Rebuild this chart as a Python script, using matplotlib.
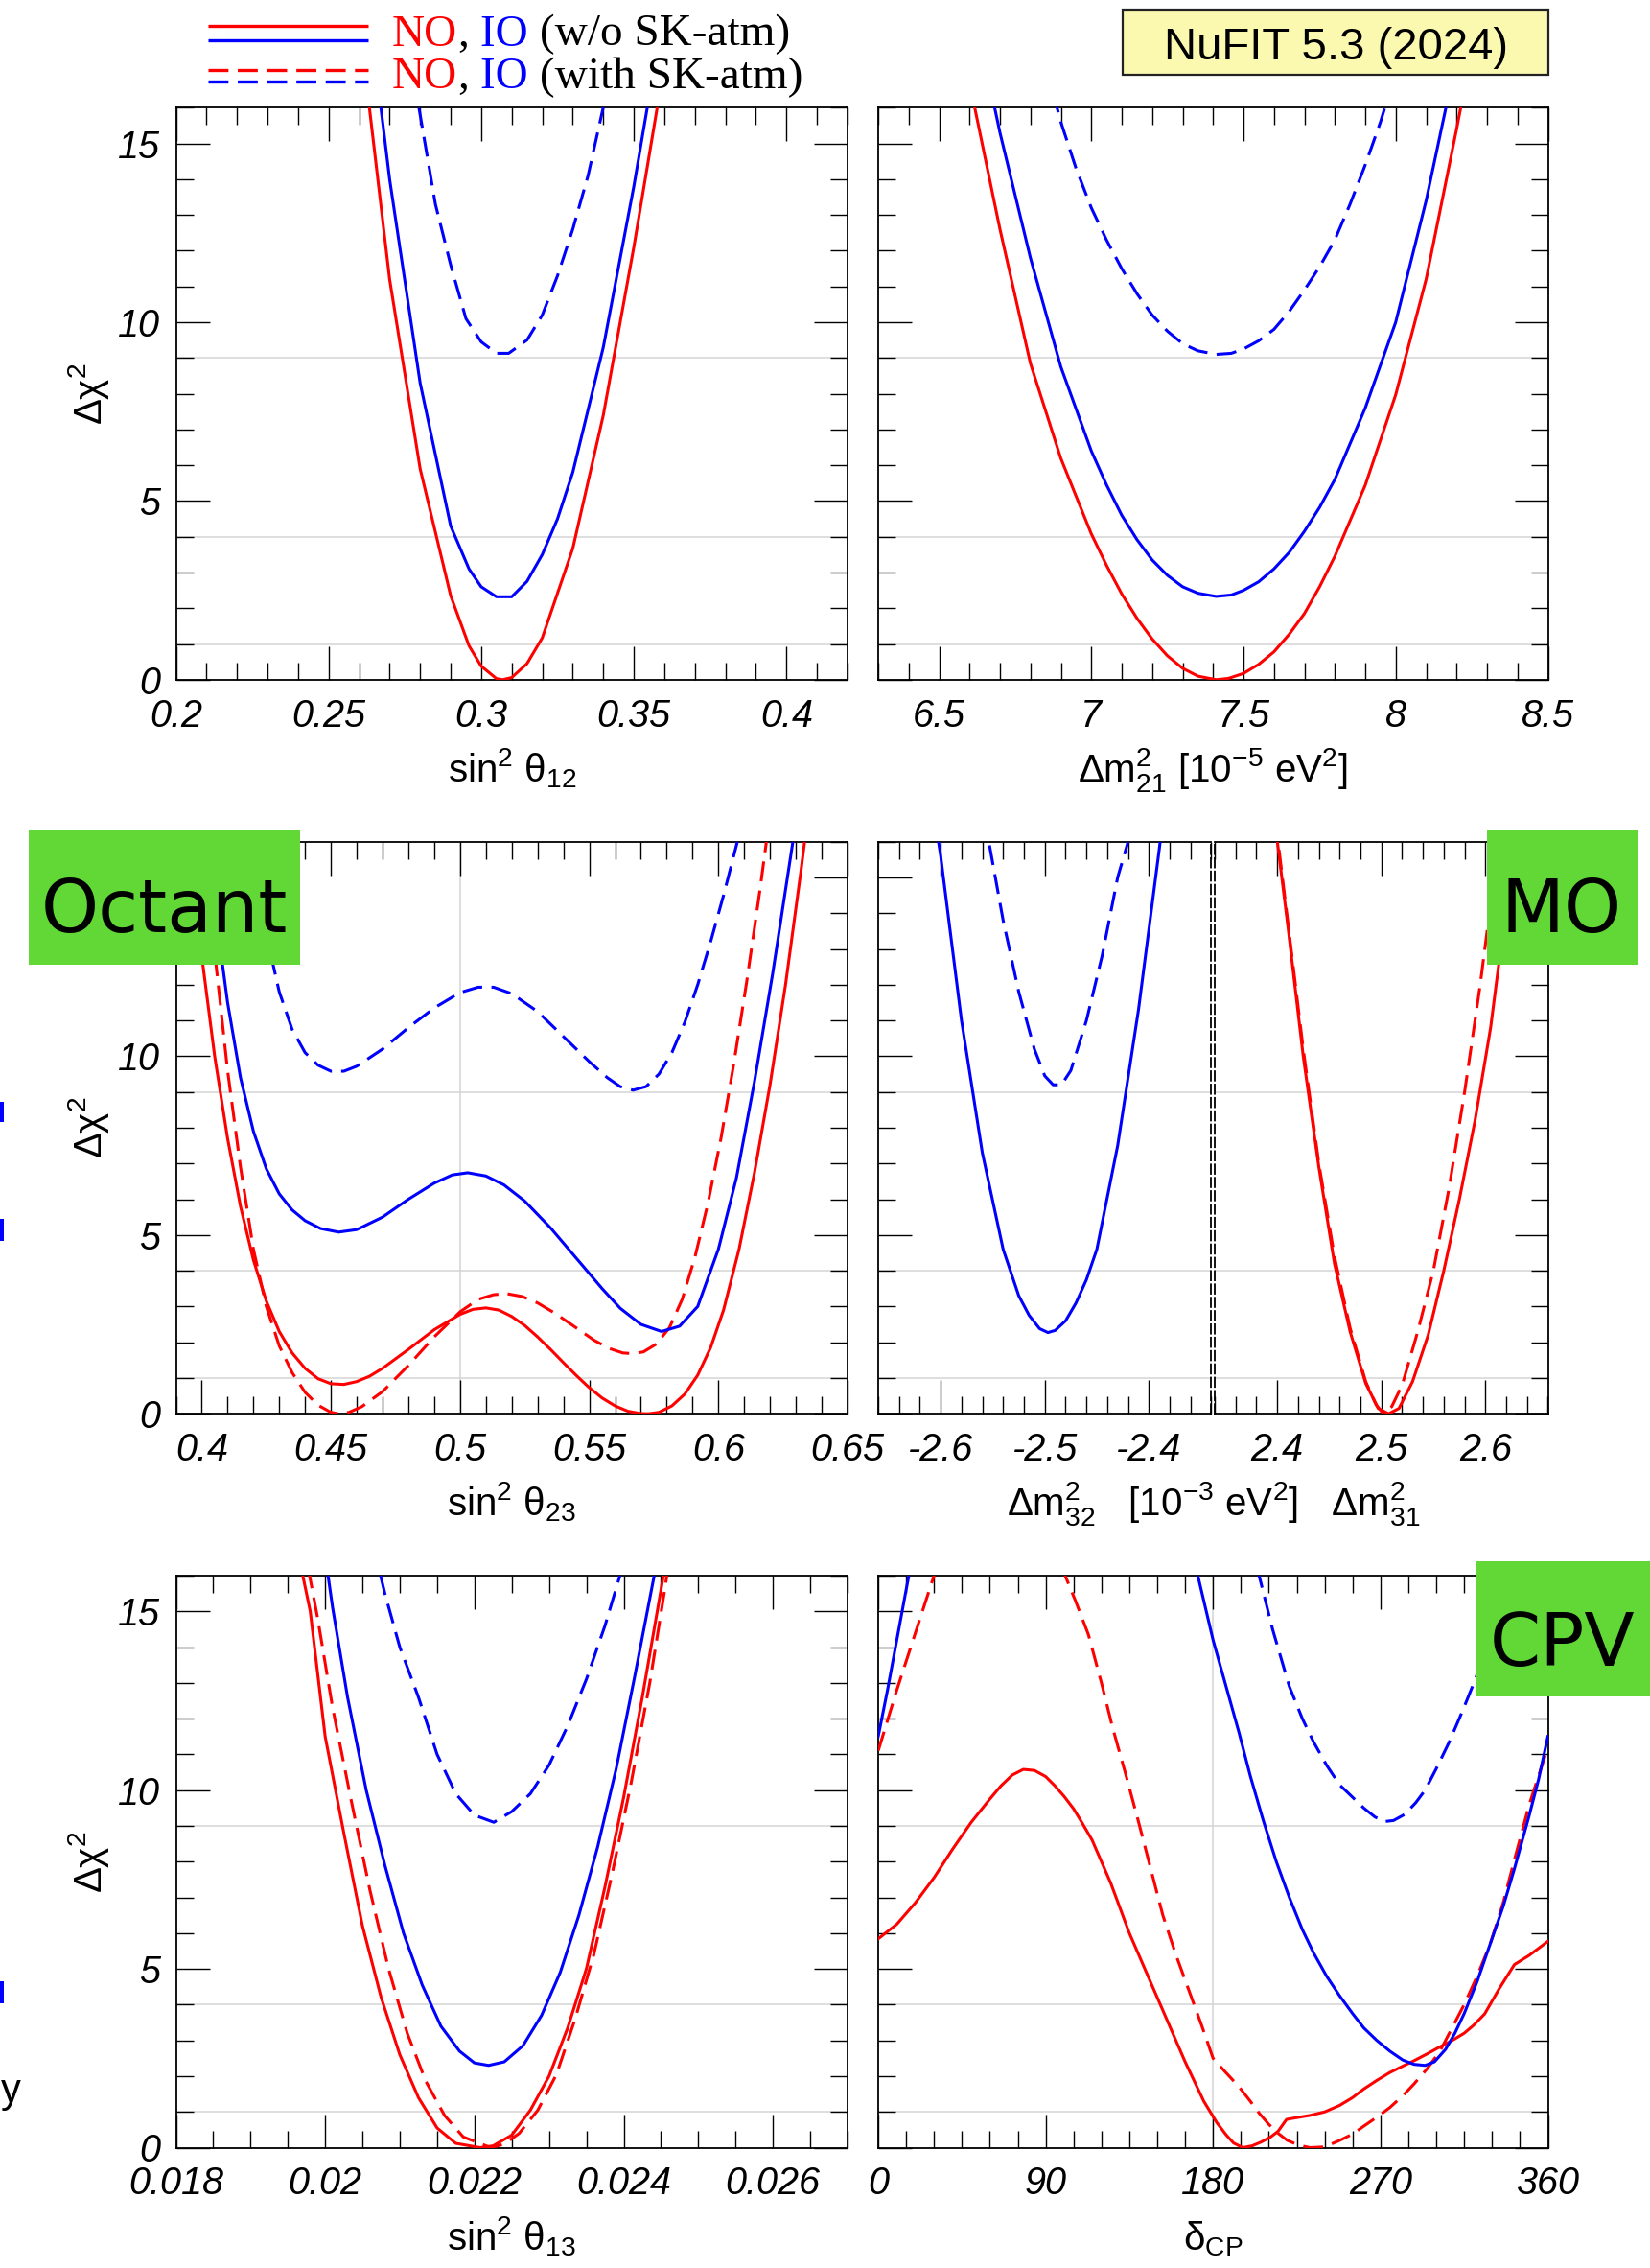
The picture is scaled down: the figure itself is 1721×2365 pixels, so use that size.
import matplotlib
matplotlib.use("Agg")
import matplotlib.pyplot as plt
from matplotlib.patches import Rectangle
from matplotlib.ticker import MultipleLocator, FuncFormatter

plt.rcParams.update({
    "font.family": ["Liberation Sans", "DejaVu Sans"],
    "mathtext.fontset": "custom",
    "mathtext.rm": "Liberation Sans",
    "mathtext.it": "Liberation Sans:italic",
    "mathtext.bf": "Liberation Sans:bold",
    "mathtext.sf": "Liberation Sans",
    "lines.scale_dashes": False,
})

# ---------------- Delta chi^2 profiles ----------------
# sin^2 theta_12
s12_no_x = [0.262, 0.270, 0.280, 0.290, 0.296, 0.300, 0.305, 0.307, 0.310, 0.315, 0.320, 0.330, 0.340, 0.350, 0.360]
s12_no_y = [17.0, 11.2, 5.9, 2.35, 0.95, 0.38, 0.03, 0.0, 0.06, 0.45, 1.17, 3.67, 7.4, 12.1, 17.2]
s12_io_x = [0.265, 0.270, 0.280, 0.290, 0.296, 0.300, 0.305, 0.310, 0.315, 0.320, 0.325, 0.330, 0.340, 0.350, 0.356]
s12_io_y = [17.5, 14.0, 8.3, 4.3, 3.1, 2.6, 2.32, 2.32, 2.75, 3.5, 4.5, 5.8, 9.3, 13.8, 16.8]
s12_iosk_x = [0.278, 0.285, 0.290, 0.295, 0.300, 0.305, 0.309, 0.315, 0.320, 0.325, 0.330, 0.335, 0.341]
s12_iosk_y = [16.8, 13.3, 11.6, 10.1, 9.45, 9.13, 9.13, 9.5, 10.2, 11.3, 12.6, 14.1, 16.4]

# Delta m^2_21
m21_no_x = [6.60, 6.70, 6.80, 6.90, 7.00, 7.05, 7.10, 7.15, 7.20, 7.25, 7.30, 7.35, 7.41, 7.45, 7.50, 7.55,
            7.60, 7.65, 7.70, 7.75, 7.80, 7.90, 8.00, 8.10, 8.20, 8.25]
m21_no_y = [16.7, 12.6, 8.85, 6.19, 4.08, 3.2, 2.4, 1.72, 1.14, 0.67, 0.32, 0.1, 0.0, 0.035, 0.175, 0.43,
            0.78, 1.27, 1.85, 2.6, 3.45, 5.44, 7.97, 11.2, 15.4, 17.6]
m21_io_x = [6.65, 6.70, 6.80, 6.90, 7.00, 7.05, 7.10, 7.15, 7.20, 7.25, 7.30, 7.35, 7.41, 7.46, 7.50, 7.55,
            7.60, 7.65, 7.70, 7.75, 7.80, 7.90, 8.00, 8.10, 8.20]
m21_io_y = [17.3, 15.3, 11.8, 8.75, 6.4, 5.45, 4.6, 3.92, 3.35, 2.92, 2.6, 2.42, 2.33, 2.37, 2.5, 2.74,
            3.1, 3.56, 4.15, 4.82, 5.6, 7.6, 10.0, 13.4, 17.4]
m21_iosk_x = [6.85, 6.90, 6.95, 7.00, 7.05, 7.10, 7.15, 7.20, 7.25, 7.30, 7.35, 7.41, 7.46, 7.50, 7.55,
              7.60, 7.65, 7.70, 7.75, 7.80, 7.85, 7.90, 7.95, 8.00]
m21_iosk_y = [17.2, 15.6, 14.3, 13.2, 12.3, 11.5, 10.8, 10.2, 9.75, 9.4, 9.2, 9.1, 9.13, 9.25, 9.48,
              9.8, 10.3, 10.9, 11.55, 12.3, 13.3, 14.4, 15.6, 17.0]

# sin^2 theta_23
s23_no_x = [0.392, 0.396, 0.400, 0.405, 0.410, 0.415, 0.420, 0.425, 0.430, 0.435, 0.440, 0.445, 0.450, 0.455,
            0.460, 0.465, 0.470, 0.480, 0.490, 0.500, 0.505, 0.510, 0.515, 0.520, 0.525, 0.530, 0.535, 0.540,
            0.545, 0.550, 0.555, 0.560, 0.565, 0.570, 0.573, 0.577, 0.582, 0.587, 0.592, 0.597, 0.602, 0.608,
            0.614, 0.620, 0.626, 0.632, 0.636]
s23_no_y = [17.0, 14.9, 12.8, 10.0, 7.7, 5.8, 4.3, 3.15, 2.3, 1.7, 1.27, 0.98, 0.84, 0.82,
            0.9, 1.05, 1.27, 1.8, 2.35, 2.78, 2.92, 2.96, 2.9, 2.72, 2.47, 2.15, 1.8, 1.43,
            1.07, 0.73, 0.44, 0.22, 0.07, 0.005, 0.0, 0.04, 0.22, 0.55, 1.08, 1.85, 2.9, 4.6,
            6.75, 9.2, 12.0, 15.2, 17.5]
s23_nosk_x = [0.397, 0.400, 0.405, 0.410, 0.415, 0.420, 0.425, 0.430, 0.435, 0.440, 0.445, 0.450, 0.453, 0.457,
              0.462, 0.470, 0.480, 0.490, 0.500, 0.507, 0.513, 0.518, 0.524, 0.530, 0.537, 0.545, 0.552,
              0.558, 0.563, 0.567, 0.571, 0.576, 0.581, 0.586, 0.591, 0.596, 0.601, 0.606, 0.611, 0.616, 0.621]
s23_nosk_y = [18.5, 16.3, 12.9, 9.6, 6.9, 4.6, 3.0, 1.9, 1.15, 0.6, 0.24, 0.04, 0.0, 0.04,
              0.2, 0.62, 1.35, 2.15, 2.85, 3.2, 3.33, 3.36, 3.28, 3.1, 2.8, 2.4, 2.05,
              1.82, 1.7, 1.68, 1.73, 1.95, 2.4, 3.2, 4.4, 5.9, 7.7, 9.8, 12.1, 14.6, 17.3]
s23_io_x = [0.400, 0.405, 0.410, 0.415, 0.420, 0.425, 0.430, 0.435, 0.440, 0.446, 0.453, 0.460, 0.470, 0.480,
            0.490, 0.497, 0.503, 0.510, 0.517, 0.525, 0.535, 0.545, 0.555, 0.562, 0.570, 0.578, 0.585, 0.592,
            0.600, 0.607, 0.614, 0.621, 0.628, 0.633]
s23_io_y = [17.5, 14.2, 11.5, 9.4, 7.9, 6.85, 6.15, 5.7, 5.4, 5.18, 5.08, 5.15, 5.5, 6.0,
            6.45, 6.68, 6.74, 6.65, 6.4, 5.95, 5.2, 4.35, 3.5, 2.95, 2.5, 2.3, 2.45, 3.0,
            4.6, 6.6, 9.3, 12.3, 15.6, 18.0]
s23_iosk_x = [0.415, 0.420, 0.425, 0.430, 0.435, 0.440, 0.445, 0.450, 0.455, 0.460, 0.470, 0.480, 0.490, 0.500,
              0.507, 0.513, 0.520, 0.530, 0.540, 0.550, 0.557, 0.562, 0.567, 0.572, 0.577, 0.582, 0.587,
              0.592, 0.597, 0.602, 0.607, 0.612]
s23_iosk_y = [18.5, 15.8, 13.4, 11.8, 10.75, 10.1, 9.75, 9.58, 9.58, 9.72, 10.2, 10.8, 11.35, 11.78,
              11.93, 11.93, 11.75, 11.25, 10.55, 9.85, 9.4, 9.15, 9.05, 9.15, 9.5, 10.1, 10.95,
              12.0, 13.2, 14.5, 15.9, 17.4]

# Delta m^2_32 (IO) and Delta m^2_31 (NO)
m32_io_x = [-2.610, -2.600, -2.580, -2.560, -2.540, -2.525, -2.515, -2.505, -2.497, -2.490, -2.480, -2.470,
            -2.460, -2.450, -2.430, -2.410, -2.390, -2.380]
m32_io_y = [17.5, 15.6, 11.0, 7.3, 4.6, 3.3, 2.75, 2.38, 2.27, 2.33, 2.6, 3.1,
            3.75, 4.6, 7.5, 11.3, 15.8, 18.3]
m32_iosk_x = [-2.565, -2.555, -2.540, -2.525, -2.510, -2.500, -2.492, -2.484, -2.475, -2.460, -2.445, -2.430, -2.418, -2.410]
m32_iosk_y = [17.5, 16.2, 13.8, 11.8, 10.2, 9.45, 9.2, 9.2, 9.6, 11.0, 12.8, 15.0, 16.2, 17.6]
m31_no_x = [2.395, 2.410, 2.425, 2.440, 2.455, 2.470, 2.485, 2.497, 2.507, 2.517, 2.530, 2.545, 2.560, 2.575, 2.590, 2.605, 2.620, 2.630]
m31_no_y = [17.2, 13.7, 10.0, 6.9, 4.2, 2.3, 0.85, 0.15, 0.0, 0.15, 0.9, 2.2, 4.0, 6.0, 8.2, 10.8, 14.2, 16.7]
m31_nosk_x = [2.395, 2.410, 2.425, 2.440, 2.455, 2.470, 2.485, 2.495, 2.502, 2.510, 2.520, 2.535, 2.550, 2.565, 2.580, 2.595, 2.610, 2.620]
m31_nosk_y = [17.4, 13.8, 10.2, 7.0, 4.4, 2.4, 0.9, 0.25, 0.0, 0.2, 0.8, 2.3, 4.0, 6.3, 9.0, 12.0, 15.4, 17.8]

# sin^2 theta_13
s13_no_x = [0.01960, 0.01980, 0.02000, 0.02025, 0.02050, 0.02075, 0.02100, 0.02125, 0.02150, 0.02175, 0.02208,
            0.02225, 0.02250, 0.02275, 0.02300, 0.02325, 0.02350, 0.02375, 0.02400, 0.02425, 0.02450, 0.02465]
s13_no_y = [17.0, 15.0, 11.5, 8.8, 6.2, 4.2, 2.6, 1.4, 0.55, 0.12, 0.0,
            0.05, 0.35, 1.05, 2.0, 3.35, 5.0, 7.3, 9.8, 12.6, 15.6, 17.5]
s13_nosk_x = [0.01970, 0.01990, 0.02010, 0.02035, 0.02060, 0.02085, 0.02110, 0.02135, 0.02160, 0.02185, 0.02222,
              0.02240, 0.02260, 0.02285, 0.02310, 0.02335, 0.02360, 0.02385, 0.02410, 0.02435, 0.02455, 0.02470]
s13_nosk_y = [17.0, 14.8, 12.3, 9.7, 7.2, 5.0, 3.2, 1.85, 0.9, 0.3, 0.0,
              0.1, 0.4, 1.05, 2.05, 3.6, 5.4, 7.7, 10.2, 13.0, 15.6, 17.7]
s13_io_x = [0.01995, 0.02010, 0.02030, 0.02055, 0.02080, 0.02105, 0.02130, 0.02155, 0.02180, 0.02200, 0.02219,
            0.02240, 0.02265, 0.02290, 0.02315, 0.02340, 0.02365, 0.02390, 0.02415, 0.02440, 0.02455]
s13_io_y = [17.3, 15.1, 12.6, 10.0, 7.9, 6.0, 4.55, 3.4, 2.7, 2.37, 2.3,
            2.4, 2.85, 3.7, 4.9, 6.5, 8.4, 10.6, 13.2, 15.9, 17.5]
s13_iosk_x = [0.02065, 0.02080, 0.02100, 0.02125, 0.02150, 0.02175, 0.02200, 0.02226, 0.02250, 0.02275,
              0.02300, 0.02325, 0.02350, 0.02375, 0.02395, 0.02410]
s13_iosk_y = [16.8, 15.5, 14.0, 12.6, 11.0, 9.9, 9.3, 9.1, 9.4, 9.9,
              10.7, 11.8, 13.1, 14.6, 16.0, 17.2]

# delta_CP [deg]
dcp_no_x = [0, 10, 20, 30, 40, 50, 60, 66, 72, 78, 84, 90, 95, 100, 105, 110, 115, 125, 135, 145, 155, 165, 175,
            182, 187, 191, 196, 201, 206, 211, 215, 219.5, 225, 232, 240, 248, 255, 261, 268, 275, 282, 288, 295,
            302, 308, 315, 320, 326, 334, 342, 350, 360]
dcp_no_y = [5.84, 6.25, 6.85, 7.55, 8.35, 9.1, 9.75, 10.12, 10.42, 10.58, 10.55, 10.38, 10.12, 9.82, 9.48, 9.05, 8.6,
            7.4, 6.0, 4.8, 3.6, 2.4, 1.3, 0.7, 0.36, 0.13, 0.0, 0.05, 0.16, 0.3, 0.46, 0.79, 0.84, 0.9, 1.0, 1.18,
            1.4, 1.64, 1.88, 2.1, 2.28, 2.43, 2.62, 2.82, 2.98, 3.2, 3.42, 3.74, 4.46, 5.12, 5.38, 5.77]
dcp_nosk_x = [0, 10, 20, 30, 35, 95, 100.5, 106, 113, 120, 126, 133, 140, 147, 153, 160, 167, 174, 180, 186,
              194, 200, 205, 210, 215, 220, 226, 232, 240, 248, 255, 261, 268, 275, 282, 288, 295, 302, 308,
              315, 322, 329, 336, 342, 350, 355, 360]
dcp_nosk_y = [11.1, 12.8, 14.4, 16.0, 16.9, 16.9, 16.0, 15.3, 14.35, 13.0, 11.75, 10.45, 9.1, 7.7, 6.5, 5.4, 4.4, 3.4, 2.5, 2.15,
              1.7, 1.3, 0.95, 0.65, 0.4, 0.2, 0.07, 0.0, 0.02, 0.2, 0.38, 0.6, 0.85, 1.12, 1.45, 1.78, 2.2, 2.7, 3.3,
              4.0, 4.8, 5.7, 6.85, 8.05, 9.6, 10.4, 11.2]
dcp_io_x = [0, 5, 10, 15, 19, 170, 175, 180, 187, 194, 200, 207, 214, 221, 228, 234, 241, 248, 255, 261, 268,
            275, 282, 288, 294, 299, 305, 310, 315, 322, 329, 336, 342, 350, 355, 360]
dcp_io_y = [11.5, 12.8, 14.2, 15.6, 16.7, 16.4, 15.3, 14.2, 12.9, 11.6, 10.4, 9.15, 8.0, 7.0, 6.1, 5.45, 4.8, 4.25, 3.75, 3.35, 3.0,
            2.7, 2.45, 2.33, 2.3, 2.4, 2.75, 3.2, 3.75, 4.65, 5.7, 6.75, 7.8, 9.3, 10.3, 11.5]
dcp_iosk_x = [200, 205, 212, 221, 228, 234, 241, 248, 255, 261, 267, 272, 277, 283, 289, 294, 300, 307, 314,
              321, 328, 335, 340, 345]
dcp_iosk_y = [17.0, 15.95, 14.5, 12.9, 12.0, 11.35, 10.7, 10.15, 9.8, 9.5, 9.25, 9.12, 9.15, 9.32, 9.65, 10.0, 10.6, 11.35, 12.2,
              13.1, 14.1, 15.3, 16.2, 17.2]

# ---------------- layout ----------------
W, H = 1721, 2365
fig = plt.figure(figsize=(W / 100, H / 100), dpi=100)

RED, BLUE = "#ff0000", "#0000ff"
GRID = "#d4d4d4"
DASH = (0, (15, 7))
LW = 2.2

ROW_TOP = [112.3, 877.7, 1643.0]
ROW_H = 596.5
L_LEFT, L_W = 183.5, 700.5
R_LEFT, R_W = 916.0, 698.5


def px_axes(left, top, width, height):
    return fig.add_axes([left / W, 1 - (top + height) / H, width / W, height / H])


fmt = FuncFormatter(lambda v, p: f"{v:g}")
fmt_no15 = FuncFormatter(lambda v, p: "" if v > 14 else f"{v:g}")


def style(ax, xlim, major, minor, ylab=True, left=True, right=True):
    ax.set_xlim(*xlim)
    ax.set_ylim(0, 16)
    ax.xaxis.set_major_locator(MultipleLocator(major))
    ax.xaxis.set_minor_locator(MultipleLocator(minor))
    ax.xaxis.set_major_formatter(fmt)
    ax.yaxis.set_major_locator(MultipleLocator(5))
    ax.yaxis.set_minor_locator(MultipleLocator(1))
    ax.yaxis.set_major_formatter(fmt)
    ax.tick_params(which="both", direction="in", top=True, bottom=True, left=left, right=right,
                   width=1.0, labelsize=28.5, colors="black")
    ax.tick_params(axis="x", which="both", pad=13.5)
    ax.tick_params(axis="y", which="both", pad=12)
    ax.tick_params(which="major", length=25)
    ax.tick_params(which="minor", length=13)
    ax.tick_params(axis="y", labelleft=ylab)
    for s in ax.spines.values():
        s.set_linewidth(1.3)
    for lvl in (1, 4, 9):
        ax.axhline(lvl, color=GRID, lw=1.1, zorder=1)


def curves(ax, spec):
    for x, y, c, dashed in spec:
        ax.plot(x, y, color=c, lw=LW, ls=DASH if dashed else "-", zorder=3)


# row 1
ax = px_axes(L_LEFT, ROW_TOP[0], L_W, ROW_H)
style(ax, (0.2, 0.42), 0.05, 0.01)
curves(ax, [(s12_no_x, s12_no_y, RED, False), (s12_io_x, s12_io_y, BLUE, False),
            (s12_iosk_x, s12_iosk_y, BLUE, True)])
axes_list = [ax]

ax = px_axes(R_LEFT, ROW_TOP[0], R_W, ROW_H)
style(ax, (6.3, 8.5), 0.5, 0.1, ylab=False)
curves(ax, [(m21_no_x, m21_no_y, RED, False), (m21_io_x, m21_io_y, BLUE, False),
            (m21_iosk_x, m21_iosk_y, BLUE, True)])
axes_list.append(ax)

# row 2
ax = px_axes(L_LEFT, ROW_TOP[1], L_W, ROW_H)
style(ax, (0.39, 0.65), 0.05, 0.01)
ax.yaxis.set_major_formatter(fmt_no15)   # top label sits under the badge
ax.axvline(0.5, color=GRID, lw=1.1, zorder=1)
curves(ax, [(s23_no_x, s23_no_y, RED, False), (s23_nosk_x, s23_nosk_y, RED, True),
            (s23_io_x, s23_io_y, BLUE, False), (s23_iosk_x, s23_iosk_y, BLUE, True)])
axes_list.append(ax)

split_w = 347.5
ax = px_axes(R_LEFT, ROW_TOP[1], split_w, ROW_H)
style(ax, (-2.66, -2.34), 0.1, 0.02, ylab=False, right=False)
ax.spines["right"].set_linestyle((0, (7, 3)))
curves(ax, [(m32_io_x, m32_io_y, BLUE, False), (m32_iosk_x, m32_iosk_y, BLUE, True)])
axes_list.append(ax)

ax = px_axes(R_LEFT + R_W - split_w, ROW_TOP[1], split_w, ROW_H)
style(ax, (2.34, 2.66), 0.1, 0.02, ylab=False, left=False)
ax.spines["left"].set_linestyle((0, (7, 3)))
curves(ax, [(m31_no_x, m31_no_y, RED, False), (m31_nosk_x, m31_nosk_y, RED, True)])
axes_list.append(ax)

# row 3
ax = px_axes(L_LEFT, ROW_TOP[2], L_W, ROW_H)
style(ax, (0.018, 0.027), 0.002, 0.0005)
curves(ax, [(s13_no_x, s13_no_y, RED, False), (s13_nosk_x, s13_nosk_y, RED, True),
            (s13_io_x, s13_io_y, BLUE, False), (s13_iosk_x, s13_iosk_y, BLUE, True)])
axes_list.append(ax)

ax = px_axes(R_LEFT, ROW_TOP[2], R_W, ROW_H)
style(ax, (0, 360), 90, 15, ylab=False)
ax.axvline(180, color=GRID, lw=1.1, zorder=1)
curves(ax, [(dcp_no_x, dcp_no_y, RED, False), (dcp_nosk_x, dcp_nosk_y, RED, True),
            (dcp_io_x, dcp_io_y, BLUE, False), (dcp_iosk_x, dcp_iosk_y, BLUE, True)])
axes_list.append(ax)

for a in axes_list:
    for lab in a.get_xticklabels() + a.get_yticklabels():
        lab.set_fontstyle("italic")

# ---------------- overlay: labels, legend, badges ----------------
ov = fig.add_axes([0, 0, 1, 1], zorder=10)
ov.set_xlim(0, W)
ov.set_ylim(H, 0)
ov.axis("off")

LAB = 29
xc_left = L_LEFT + L_W / 2
xc_right = R_LEFT + R_W / 2
label_base = [815, 1580, 2346]
xlabels = [
    (xc_left, label_base[0], r"$\mathregular{sin^2\ θ_{12}}$"),
    (xc_right, label_base[0], r"$\mathregular{Δm^2_{21}\ [10^{-5}\ eV^2]}$"),
    (xc_left, label_base[1], r"$\mathregular{sin^2\ θ_{23}}$"),
    (xc_right, label_base[1], r"$\mathregular{Δm^2_{32}\ \ \ [10^{-3}\ eV^2]\ \ \ Δm^2_{31}}$"),
    (xc_left, label_base[2], r"$\mathregular{sin^2\ θ_{13}}$"),
    (xc_right, label_base[2], r"$\mathregular{δ_{CP}}$"),
]
for x, y, s in xlabels:
    ov.text(x, y, s, ha="center", va="baseline", fontsize=LAB)
for top in ROW_TOP:
    ov.text(93, top + ROW_H / 2, r"$\mathregular{Δχ^2}$", ha="center", va="center",
            rotation=90, fontsize=LAB)

# legend keys
for y, c, dashed in [(27, RED, False), (42, BLUE, False), (73, RED, True), (85, BLUE, True)]:
    ov.plot([217, 384], [y, y], color=c, lw=2.4, ls=DASH if dashed else "-",
            solid_capstyle="butt", dash_capstyle="butt")


def chain(x, y, parts, **kw):
    t = ov.text(x, y, parts[0][0], color=parts[0][1], ha="left", va="baseline", **kw)
    for s, c in parts[1:]:
        t = ov.annotate(s, xy=(1, 0), xycoords=t, ha="left", va="bottom", color=c, **kw)


LEG = dict(fontsize=34, family="Liberation Serif")
chain(409, 47.5, [("NO", RED), (",", "black"), (" IO", BLUE), (" (w/o SK-atm)", "black")], **LEG)
chain(409, 92, [("NO", RED), (",", "black"), (" IO", BLUE), (" (with SK-atm)", "black")], **LEG)

# version badge
ov.add_patch(Rectangle((1171, 9.5), 444, 68.5, facecolor="#fbf8b0", edgecolor="#222222", lw=1.6))
ov.text(1393, 62, "NuFIT 5.3 (2024)", ha="center", va="baseline", fontsize=34, family="Liberation Sans")

# topic badges
GREEN = "#61d836"
for (x0, y0, w, h), txt, xt, yb in [((30, 866, 283, 140), "Octant", 171, 972),
                                     ((1551, 866, 157, 140), "MO", 1629, 972),
                                     ((1540, 1628, 181, 141), "CPV", 1630, 1737)]:
    ov.add_patch(Rectangle((x0, y0), w, h, facecolor=GREEN, edgecolor="none"))
    ov.text(xt, yb, txt, ha="center", va="baseline", fontsize=55, family="DejaVu Sans")

# slivers of neighbouring slide content along the left edge
for y0, h in [(1149, 21), (1271, 23), (2066, 23)]:
    ov.add_patch(Rectangle((0, y0), 4, h, facecolor=BLUE, edgecolor="none"))
ov.text(1, 2192, "y", ha="left", va="baseline", fontsize=30, family="Liberation Sans")

fig.savefig("out.png", dpi=100)
